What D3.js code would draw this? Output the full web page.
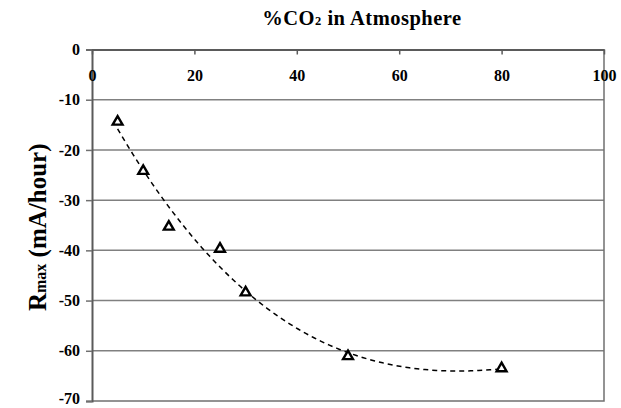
<!DOCTYPE html>
<html>
<head>
<meta charset="utf-8">
<script src="https://cdn.jsdelivr.net/npm/d3@7"></script>
<style>
  html, body { margin: 0; padding: 0; background: #fff; }
  svg { display: block; }
  text { font-family: "Liberation Serif", "Times New Roman", serif; font-weight: bold; fill: #000; }
</style>
</head>
<body>
<script>
// Measured CO2 concentration (%) and maximum rate (mA/hour)
const co2Percent = [5, 10, 15, 25, 30, 50, 80];
const rmaxValues = [-14.4, -24.2, -35.3, -39.7, -48.4, -61.1, -63.5];
const xTicks = [0, 20, 40, 60, 80, 100];
const yTicks = [0, -10, -20, -30, -40, -50, -60, -70];

const width = 621, height = 408;
const margin = { left: 92, right: 17, top: 49.5, bottom: 7 };

const svg = d3.select("body").append("svg")
  .attr("width", width).attr("height", height);

const x = d3.scaleLinear().domain([0, 100]).range([margin.left, width - margin.right]);
const y = d3.scaleLinear().domain([0, -70]).range([margin.top, height - margin.bottom]);

// Horizontal gridlines
svg.append("g").selectAll("line")
  .data(yTicks.filter(d => d !== 0 && d !== -70))
  .join("line")
  .attr("x1", x(0)).attr("x2", x(100))
  .attr("y1", d => y(d)).attr("y2", d => y(d))
  .attr("stroke", "#808080").attr("stroke-width", 1.5);

// Plot border (right and bottom)
svg.append("path")
  .attr("d", `M${x(100)},${y(0)}V${y(-70)}H${x(0)}`)
  .attr("fill", "none").attr("stroke", "#707070").attr("stroke-width", 1.5);

// Left y axis with outward ticks
const yAxis = svg.append("g")
  .attr("transform", `translate(${x(0)},0)`)
  .call(d3.axisLeft(y).tickValues(yTicks).tickSize(6).tickPadding(6).tickFormat(d3.format("d")));
yAxis.select(".domain").attr("stroke", "#5a5a5a").attr("stroke-width", 2);
yAxis.selectAll(".tick line").attr("stroke", "#707070").attr("stroke-width", 1.5);
yAxis.selectAll("text").style("font-size", "16px").attr("fill", "#000")
  .attr("dy", d => d === -70 ? "0.15em" : "0.32em")
  .text(d => d < 0 ? "-" + Math.abs(d) : d);

// Top x axis (along y = 0) with inward ticks, labels below the line
const xAxis = svg.append("g")
  .attr("transform", `translate(0,${y(0)})`)
  .call(d3.axisTop(x).tickValues(xTicks).tickSizeInner(-5).tickSizeOuter(0).tickPadding(0));
xAxis.select(".domain").attr("stroke", "#5a5a5a").attr("stroke-width", 2);
xAxis.selectAll(".tick line").attr("stroke", "#5a5a5a").attr("stroke-width", 1.5);
xAxis.selectAll("text").style("font-size", "16px").attr("fill", "#000")
  .attr("y", 31).attr("dy", 0);

// Least-squares polynomial trendline of the given order
function polyFit(xs, ys, order) {
  const m = order + 1;
  const A = [];
  for (let r = 0; r < m; r++) {
    A.push(new Array(m + 1).fill(0));
    for (let i = 0; i < xs.length; i++) {
      for (let c = 0; c < m; c++) A[r][c] += Math.pow(xs[i], r + c);
      A[r][m] += ys[i] * Math.pow(xs[i], r);
    }
  }
  for (let i = 0; i < m; i++) {
    for (let j = i + 1; j < m; j++) {
      const f = A[j][i] / A[i][i];
      for (let k = i; k <= m; k++) A[j][k] -= f * A[i][k];
    }
  }
  const coef = new Array(m).fill(0);
  for (let i = m - 1; i >= 0; i--) {
    let v = A[i][m];
    for (let k = i + 1; k < m; k++) v -= A[i][k] * coef[k];
    coef[i] = v / A[i][i];
  }
  return xv => coef.reduce((s, cf, k) => s + cf * Math.pow(xv, k), 0);
}
const trend = polyFit(co2Percent, rmaxValues, 3);
const xMin = d3.min(co2Percent), xMax = d3.max(co2Percent);
const trendPts = d3.range(0, 101).map(i => xMin + (xMax - xMin) * i / 100);
svg.append("path")
  .datum(trendPts)
  .attr("d", d3.line().x(d => x(d)).y(d => y(trend(d))))
  .attr("fill", "none").attr("stroke", "#000").attr("stroke-width", 1.5)
  .attr("stroke-dasharray", "5,4");

// Triangle markers
const tri = d3.symbol().type(d3.symbolTriangle).size(42);
svg.append("g").selectAll("path")
  .data(co2Percent.map((c, i) => [c, rmaxValues[i]]))
  .join("path")
  .attr("transform", d => `translate(${x(d[0])},${y(d[1])})`)
  .attr("d", tri)
  .attr("fill", "#fff").attr("stroke", "#000").attr("stroke-width", 2.4);

// Chart title
const title = svg.append("text")
  .attr("x", 362).attr("y", 25)
  .attr("text-anchor", "middle")
  .style("font-size", "20.5px")
  .style("letter-spacing", "0.5px");
title.append("tspan").text("%CO");
title.append("tspan").text("2").style("font-size", "12.5px");
title.append("tspan").text(" in Atmosphere");

// Y axis title
const yTitle = svg.append("text")
  .attr("transform", `translate(46,${(y(0) + y(-70)) / 2 + 2}) rotate(-90)`)
  .attr("text-anchor", "middle")
  .style("font-size", "25px");
yTitle.append("tspan").text("R");
yTitle.append("tspan").text("max").style("font-size", "16px");
yTitle.append("tspan").text(" (mA/hour)");
</script>
</body>
</html>
